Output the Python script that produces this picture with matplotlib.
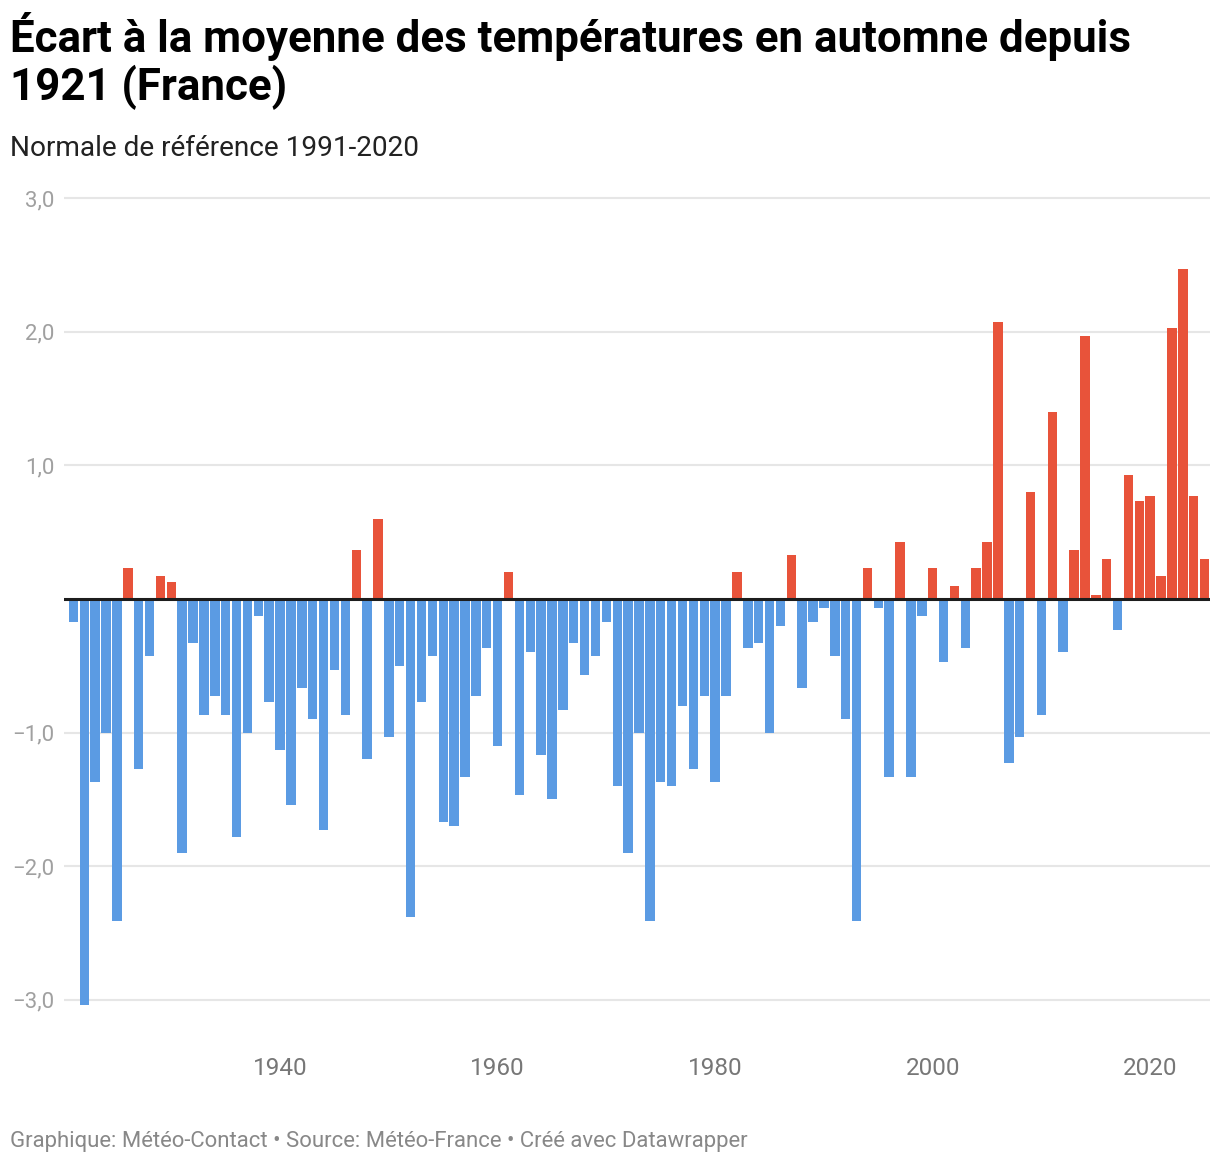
import matplotlib
matplotlib.use("Agg")
import matplotlib.pyplot as plt
import numpy as np

years = list(range(1921, 2026))
anomalies = [
    -0.17, -3.04, -1.37, -1.00, -2.41, 0.23, -1.27, -0.43, 0.17, 0.13,   # 1921-1930
    -1.90, -0.33, -0.87, -0.73, -0.87, -1.78, -1.00, -0.13, -0.77, -1.13, # 1931-1940
    -1.54, -0.67, -0.90, -1.73, -0.53, -0.87, 0.37, -1.20, 0.60, -1.03,   # 1941-1950
    -0.50, -2.38, -0.77, -0.43, -1.67, -1.70, -1.33, -0.73, -0.37, -1.10, # 1951-1960
    0.20, -1.47, -0.40, -1.17, -1.50, -0.83, -0.33, -0.57, -0.43, -0.17,  # 1961-1970
    -1.40, -1.90, -1.00, -2.41, -1.37, -1.40, -0.80, -1.27, -0.73, -1.37, # 1971-1980
    -0.73, 0.20, -0.37, -0.33, -1.00, -0.20, 0.33, -0.67, -0.17, -0.07,   # 1981-1990
    -0.43, -0.90, -2.41, 0.23, -0.07, -1.33, 0.43, -1.33, -0.13, 0.23,    # 1991-2000
    -0.47, 0.10, -0.37, 0.23, 0.43, 2.07, -1.23, -1.03, 0.80, -0.87,      # 2001-2010
    1.40, -0.40, 0.37, 1.97, 0.03, 0.30, -0.23, 0.93, 0.73, 0.77,         # 2011-2020
    0.17, 2.03, 2.47, 0.77, 0.30,                                          # 2021-2025
]
ytick_values = [-3, -2, -1, 1, 2, 3]
ytick_labels = ["\u22123,0", "\u22122,0", "\u22121,0", "1,0", "2,0", "3,0"]
xtick_values = [1940, 1960, 1980, 2000, 2020]
xtick_labels = ["1940", "1960", "1980", "2000", "2020"]

title_line1 = "Écart à la moyenne des températures en automne depuis"
title_line2 = "1921 (France)"
subtitle = "Normale de référence 1991-2020"
footer = "Graphique: Météo-Contact • Source: Météo-France • Créé avec Datawrapper"

BLUE = "#5b9be3"
RED = "#e8533a"

plt.rcParams['font.family'] = ['Roboto', 'DejaVu Sans']

W, H = 1220, 1164
fig = plt.figure(figsize=(W / 100, H / 100), dpi=100)
fig.patch.set_facecolor("white")

L, R, T, B = 64, 1210, 190, 1015
ax = fig.add_axes([L / W, 1 - B / H, (R - L) / W, (B - T) / H])

colors = [RED if v > 0 else BLUE for v in anomalies]
ax.bar(years, anomalies, width=0.87, color=colors, zorder=3, linewidth=0)

ax.set_xlim(1920.13, 2025.5)
ax.set_ylim(-3.114, 3.061)

for v in ytick_values:
    ax.axhline(v, color="#e6e6e6", lw=1.5, zorder=1)
ax.axhline(0, color="#1d1d1d", lw=2.2, zorder=4)

ax.set_yticks(ytick_values)
ax.set_yticklabels(ytick_labels)
ax.set_xticks(xtick_values)
ax.set_xticklabels(xtick_labels)
ax.tick_params(axis="y", length=0, pad=7, labelsize=16, labelcolor="#a0a0a0")
ax.tick_params(axis="x", length=0, pad=30, labelsize=17.5, labelcolor="#777777")
for s in ax.spines.values():
    s.set_visible(False)

fig.text(10 / W, 1 - 52 / H, title_line1,
         fontsize=31.6, fontweight="bold", color="#000000", va="baseline", ha="left")
fig.text(10 / W, 1 - 100 / H, title_line2,
         fontsize=31.6, fontweight="bold", color="#000000", va="baseline", ha="left")
fig.text(10 / W, 1 - 156 / H, subtitle, fontsize=20.15, color="#222222",
         va="baseline", ha="left")
fig.text(10 / W, 1 - 1147 / H, footer, fontsize=15.9, color="#888888",
         va="baseline", ha="left")

fig.savefig("out.png", dpi=100, facecolor="white")
